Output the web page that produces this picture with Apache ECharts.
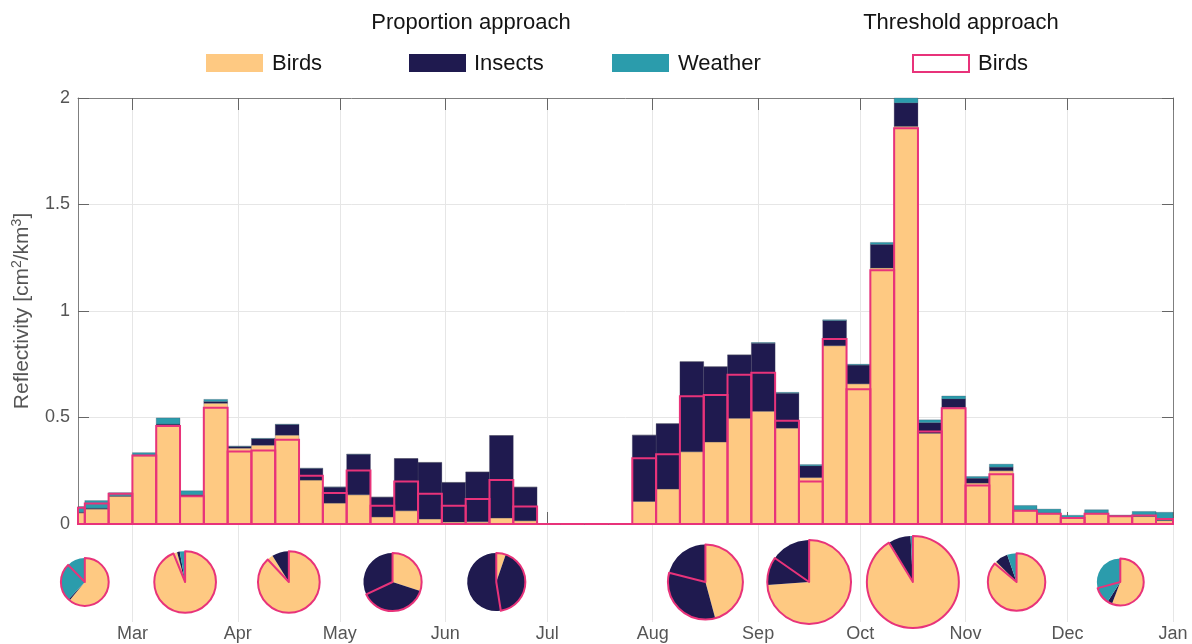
<!DOCTYPE html>
<html>
<head>
<meta charset="utf-8">
<script src="https://cdn.jsdelivr.net/npm/echarts@6/dist/echarts.min.js"></script>
<style>
  html, body { margin: 0; padding: 0; background: #fff; }
  #chart { width: 1192px; height: 644px; }
</style>
</head>
<body>
<div id="chart"></div>
<script>
// Weekly radar reflectivity, split by target class (proportion approach)
// plus the bird-only estimate from the threshold approach.
const weekStart = [
  '2019-02-08', '2019-02-15', '2019-02-22',
  '2019-03-01', '2019-03-08', '2019-03-15', '2019-03-22', '2019-03-29',
  '2019-04-05', '2019-04-12', '2019-04-19', '2019-04-26',
  '2019-05-03', '2019-05-10', '2019-05-17', '2019-05-24', '2019-05-31',
  '2019-06-07', '2019-06-14', '2019-06-21',
  '2019-06-28', '2019-07-05', '2019-07-12', '2019-07-19', '2019-07-26',
  '2019-08-02', '2019-08-09', '2019-08-16', '2019-08-23', '2019-08-30',
  '2019-09-06', '2019-09-13', '2019-09-20', '2019-09-27',
  '2019-10-04', '2019-10-11', '2019-10-18', '2019-10-25',
  '2019-11-01', '2019-11-08', '2019-11-15', '2019-11-22', '2019-11-29',
  '2019-12-06', '2019-12-13', '2019-12-20', '2019-12-27'
];
const birds = [
  0.052, 0.070, 0.130,
  0.320, 0.465, 0.130, 0.567, 0.356,
  0.370, 0.417, 0.206, 0.098,
  0.137, 0.033, 0.062, 0.023, 0.009,
  0.010, 0.028, 0.015,
  0, 0, 0, 0, 0.106,
  0.164, 0.339, 0.385, 0.496, 0.529,
  0.450, 0.218, 0.837, 0.658,
  1.202, 1.867, 0.426, 0.546,
  0.192, 0.250, 0.062, 0.048, 0.028,
  0.048, 0.036, 0.035, 0.016
];
const insects = [
  0.003, 0.004, 0.003,
  0.003, 0.004, 0.008, 0.008, 0.008,
  0.030, 0.050, 0.055, 0.075,
  0.190, 0.093, 0.245, 0.266, 0.186,
  0.234, 0.387, 0.158,
  0, 0, 0, 0, 0.311,
  0.307, 0.423, 0.353, 0.298, 0.320,
  0.164, 0.055, 0.118, 0.088,
  0.111, 0.110, 0.050, 0.041,
  0.023, 0.017, 0.003, 0.003, 0.002,
  0.002, 0.001, 0.002, 0.002
];
const weather = [
  0.027, 0.036, 0.014,
  0.012, 0.029, 0.018, 0.010, 0.002,
  0.002, 0.002, 0.001, 0.001,
  0.001, 0, 0, 0, 0,
  0, 0, 0,
  0, 0, 0, 0, 0,
  0, 0, 0, 0, 0.003,
  0.004, 0.006, 0.004, 0.004,
  0.009, 0.023, 0.013, 0.014,
  0.008, 0.014, 0.022, 0.019, 0.011,
  0.017, 0.005, 0.022, 0.037
];
const thresholdBirds = [
  0.076, 0.096, 0.142,
  0.322, 0.460, 0.130, 0.546, 0.340,
  0.345, 0.395, 0.227, 0.145,
  0.251, 0.086, 0.200, 0.142, 0.086,
  0.117, 0.207, 0.082,
  0, 0, 0, 0, 0.309,
  0.328, 0.600, 0.606, 0.701, 0.710,
  0.485, 0.200, 0.868, 0.633,
  1.191, 1.858, 0.434, 0.543,
  0.181, 0.234, 0.062, 0.048, 0.028,
  0.048, 0.036, 0.040, 0.023
];

// Monthly composition (fractions of the month's reflectivity)
const pieMonths = ['2019-02', '2019-03', '2019-04', '2019-05', '2019-06',
                   '2019-08', '2019-09', '2019-10', '2019-11', '2019-12'];
const pieBirds     = [0.610, 0.958, 0.911, 0.300, 0.053, 0.458, 0.739, 0.915, 0.875, 0.558];
const pieInsects   = [0.010, 0.014, 0.087, 0.700, 0.947, 0.542, 0.261, 0.077, 0.072, 0.033];
const pieWeather   = [0.380, 0.028, 0.002, 0.000, 0.000, 0.000, 0.000, 0.008, 0.053, 0.409];
const pieThreshold = [0.877, 0.938, 0.880, 0.680, 0.475, 0.790, 0.847, 0.913, 0.861, 0.708];
// relative monthly magnitude (pie area)
const pieMagnitude = [0.27, 0.45, 0.45, 0.40, 0.40, 0.665, 0.83, 1.00, 0.39, 0.26];

const monthTicks = ['2019-03-01', '2019-04-01', '2019-05-01', '2019-06-01', '2019-07-01',
                    '2019-08-01', '2019-09-01', '2019-10-01', '2019-11-01', '2019-12-01', '2020-01-01'];
const monthLabels = ['Mar', 'Apr', 'May', 'Jun', 'Jul', 'Aug', 'Sep', 'Oct', 'Nov', 'Dec', 'Jan'];
const yTicks = [0, 0.5, 1, 1.5, 2];

const xStart = '2019-02-13';
const xEnd = '2020-01-01';

const C = {
  birds: '#fec982',
  insects: '#1f1a4f',
  weather: '#2b9cac',
  threshold: '#e8337a',
  axis: '#7f7f7f',
  grid: '#e6e6e6',
  text: '#555555'
};
const FONT = '"Liberation Sans", Arial, Helvetica, sans-serif';
const DAY = 86400000;

// dates are carried as day numbers on a plain value axis
function toDay(s) {
  const p = s.split('-').map(Number);
  return Math.round(Date.UTC(p[0], p[1] - 1, p[2] || 1) / DAY);
}
function monthMiddle(s) {
  const p = s.split('-').map(Number);
  const a = Date.UTC(p[0], p[1] - 1, 1) / DAY;
  const b = Date.UTC(p[0], p[1], 1) / DAY;
  return (a + b) / 2;
}

const dMin = toDay(xStart);
const dMax = toDay(xEnd);
const tickDays = monthTicks.map(toDay);

const barData = weekStart.map((s, i) => {
  const d0 = toDay(s);
  return [d0, d0 + 7, birds[i], insects[i], weather[i], thresholdBirds[i]];
});

function monthLabel(v) {
  let best = 0, bd = Infinity;
  tickDays.forEach((t, i) => { const d = Math.abs(t - v); if (d < bd) { bd = d; best = i; } });
  return monthLabels[best];
}

function renderWeek(params, api) {
  const cs = params.coordSys;
  const d0 = api.value(0), d1 = api.value(1);
  const b = api.value(2), ins = api.value(3), w = api.value(4), thr = api.value(5);
  const xa = Math.max(api.coord([d0, 0])[0], cs.x);
  const xb = Math.min(api.coord([d1, 0])[0], cs.x + cs.width);
  if (xb <= xa) return null;
  const yAt = v => Math.max(api.coord([d0, v])[1], cs.y);
  const block = (v0, v1, fill) => ({
    type: 'rect',
    shape: { x: xa, y: yAt(v1), width: xb - xa, height: yAt(v0) - yAt(v1) },
    style: { fill: fill, stroke: 'rgba(70,70,95,0.45)', lineWidth: 0.6 },
    z2: 1
  });
  return {
    type: 'group',
    children: [
      block(0, b, C.birds),
      block(b, b + ins, C.insects),
      block(b + ins, b + ins + w, C.weather),
      {
        type: 'rect',
        shape: { x: xa, y: yAt(thr), width: xb - xa, height: yAt(0) - yAt(thr) },
        style: { fill: 'none', stroke: C.threshold, lineWidth: 2 },
        z2: 10
      }
    ]
  };
}

const chart = echarts.init(document.getElementById('chart'), null, { renderer: 'canvas' });

const gridMain = { left: 78, right: 19, top: 98, height: 426 };
const gridPies = { left: 78, right: 19, top: 524, height: 98 };

const monthTick = { show: true, inside: true, length: 12, customValues: tickDays,
                    lineStyle: { color: '#666', width: 1 } };

const option = {
  animation: false,
  backgroundColor: '#ffffff',
  textStyle: { fontFamily: FONT },
  grid: [gridMain, gridPies],
  xAxis: [
    {
      type: 'value', gridIndex: 0, position: 'bottom', min: dMin, max: dMax,
      axisLine: { show: true, onZero: false, lineStyle: { color: C.axis, width: 1 } },
      axisTick: monthTick,
      axisLabel: { show: false, customValues: tickDays },
      splitLine: { show: true, lineStyle: { color: C.grid, width: 1 } }
    },
    {
      type: 'value', gridIndex: 0, position: 'top', min: dMin, max: dMax,
      axisLine: { show: true, onZero: false, lineStyle: { color: C.axis, width: 1 } },
      axisTick: monthTick,
      axisLabel: { show: false, customValues: tickDays },
      splitLine: { show: false }
    },
    {
      type: 'value', gridIndex: 1, position: 'bottom', min: dMin, max: dMax,
      axisLine: { show: false },
      axisTick: { show: false, customValues: tickDays },
      axisLabel: {
        show: true, customValues: tickDays, margin: 3,
        fontSize: 18, color: C.text, fontFamily: FONT,
        formatter: v => monthLabel(v),
        showMinLabel: true, showMaxLabel: true
      },
      splitLine: { show: true, lineStyle: { color: C.grid, width: 1 } }
    }
  ],
  yAxis: [
    {
      type: 'value', gridIndex: 0, position: 'left',
      min: yTicks[0], max: yTicks[yTicks.length - 1], interval: yTicks[1] - yTicks[0],
      axisLine: { show: true, onZero: false, lineStyle: { color: C.axis, width: 1 } },
      axisTick: { show: true, inside: true, length: 11, lineStyle: { color: '#666', width: 1 } },
      axisLabel: { show: true, margin: 8, fontSize: 18, color: C.text, fontFamily: FONT },
      splitLine: { show: true, lineStyle: { color: C.grid, width: 1 } },
      name: 'Reflectivity [cm{sup|2}/km{sup|3}]',
      nameLocation: 'middle',
      nameGap: 41,
      nameRotate: 90,
      nameTextStyle: {
        fontSize: 21, color: C.text, fontFamily: FONT, lineHeight: 24,
        rich: { sup: { fontSize: 14, color: C.text, fontFamily: FONT, verticalAlign: 'top', lineHeight: 24 } }
      }
    },
    {
      type: 'value', gridIndex: 0, position: 'right',
      min: yTicks[0], max: yTicks[yTicks.length - 1], interval: yTicks[1] - yTicks[0],
      axisLine: { show: true, onZero: false, lineStyle: { color: C.axis, width: 1 } },
      axisTick: { show: true, inside: true, length: 11, lineStyle: { color: '#666', width: 1 } },
      axisLabel: { show: false },
      splitLine: { show: false }
    },
    {
      type: 'value', gridIndex: 1, min: 0, max: 1, show: false
    }
  ],
  graphic: [
    { type: 'text', x: 471, y: 23, style: { text: 'Proportion approach', font: '22px ' + FONT, fill: '#141414', align: 'center', verticalAlign: 'middle' } },
    { type: 'text', x: 961, y: 23, style: { text: 'Threshold approach', font: '22px ' + FONT, fill: '#141414', align: 'center', verticalAlign: 'middle' } },

    { type: 'rect', shape: { x: 206, y: 54, width: 57, height: 18 }, style: { fill: C.birds } },
    { type: 'text', x: 272, y: 64, style: { text: 'Birds', font: '22px ' + FONT, fill: '#141414', align: 'left', verticalAlign: 'middle' } },
    { type: 'rect', shape: { x: 409, y: 54, width: 57, height: 18 }, style: { fill: C.insects } },
    { type: 'text', x: 474, y: 64, style: { text: 'Insects', font: '22px ' + FONT, fill: '#141414', align: 'left', verticalAlign: 'middle' } },
    { type: 'rect', shape: { x: 612, y: 54, width: 57, height: 18 }, style: { fill: C.weather } },
    { type: 'text', x: 678, y: 64, style: { text: 'Weather', font: '22px ' + FONT, fill: '#141414', align: 'left', verticalAlign: 'middle' } },
    { type: 'rect', shape: { x: 913, y: 55, width: 56, height: 17 }, style: { fill: '#ffffff', stroke: C.threshold, lineWidth: 2 } },
    { type: 'text', x: 978, y: 64, style: { text: 'Birds', font: '22px ' + FONT, fill: '#141414', align: 'left', verticalAlign: 'middle' } }
  ],
  series: [
    {
      type: 'custom',
      name: 'weekly',
      xAxisIndex: 0,
      yAxisIndex: 0,
      renderItem: renderWeek,
      data: barData,
      encode: { x: [0, 1], y: [2, 5] },
      silent: true,
      z: 3
    }
  ]
};

chart.setOption(option);

// Monthly pies, placed under the middle of each month on the day scale
const PIE_Y = 582;
const PIE_RMAX = 46;
const pies = [];
pieMonths.forEach((m, i) => {
  const cx = chart.convertToPixel({ xAxisIndex: 0 }, monthMiddle(m));
  const r = PIE_RMAX * Math.sqrt(pieMagnitude[i]);
  const common = {
    type: 'pie',
    center: [cx, PIE_Y],
    radius: [0, r],
    startAngle: 90,
    clockwise: true,
    silent: true,
    label: { show: false },
    labelLine: { show: false },
    emphasis: { disabled: true }
  };
  pies.push(Object.assign({}, common, {
    z: 4,
    itemStyle: { borderWidth: 0 },
    data: [
      { name: 'Birds', value: pieBirds[i], itemStyle: { color: C.birds } },
      { name: 'Insects', value: pieInsects[i], itemStyle: { color: C.insects } },
      { name: 'Weather', value: pieWeather[i], itemStyle: { color: C.weather } }
    ]
  }));
  pies.push(Object.assign({}, common, {
    z: 5,
    data: [
      { name: 'Threshold birds', value: pieThreshold[i],
        itemStyle: { color: 'rgba(0,0,0,0)', borderColor: C.threshold, borderWidth: 2 } },
      { name: 'rest', value: 1 - pieThreshold[i],
        itemStyle: { color: 'rgba(0,0,0,0)', borderWidth: 0 } }
    ]
  }));
});

chart.setOption({ series: option.series.concat(pies) });
</script>
</body>
</html>
